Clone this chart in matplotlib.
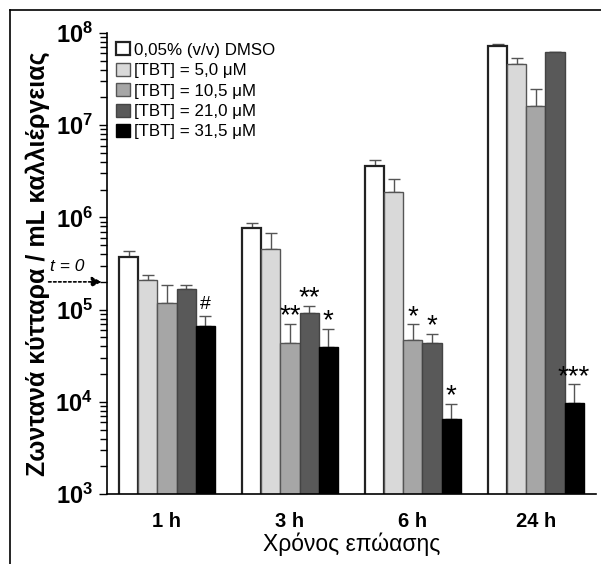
import matplotlib.pyplot as plt
import numpy as np
from matplotlib.lines import Line2D

plt.rcParams['font.family'] = ['Liberation Sans', 'DejaVu Sans']
plt.rcParams['mathtext.fontset'] = 'custom'
plt.rcParams['mathtext.rm'] = 'Liberation Sans'
plt.rcParams['mathtext.bf'] = 'Liberation Sans:bold'

# data
times = ["1 h", "3 h", "6 h", "24 h"]
series = ["0,05% (v/v) DMSO", "[TBT] = 5,0 μM", "[TBT] = 10,5 μM",
          "[TBT] = 21,0 μM", "[TBT] = 31,5 μM"]
dmso = [3.7e5, 7.6e5, 3.6e6, 7.2e7]
tbt_5 = [2.07e5, 4.6e5, 1.87e6, 4.6e7]
tbt_10 = [1.19e5, 4.4e4, 4.7e4, 1.6e7]
tbt_21 = [1.69e5, 9.3e4, 4.4e4, 6.2e7]
tbt_31 = [6.7e4, 3.9e4, 6.5e3, 9.8e3]
err_dmso = [4.3e5, 8.8e5, 4.2e6, 7.6e7]
err_5 = [2.4e5, 6.7e5, 2.6e6, 5.3e7]
err_10 = [1.87e5, 7.0e4, 6.9e4, 2.5e7]
err_21 = [1.87e5, 1.1e5, 5.5e4, 6.2e7]
err_31 = [8.6e4, 6.2e4, 9.5e3, 1.55e4]
marks_10 = ["", "**", "*", ""]
marks_21 = ["", "**", "*", ""]
marks_31 = ["#", "*", "*", "***"]
t0_level = 2.0e5
ytick_exp = [3, 4, 5, 6, 7, 8]

values = [dmso, tbt_5, tbt_10, tbt_21, tbt_31]
tops = [err_dmso, err_5, err_10, err_21, err_31]
marks = [None, None, marks_10, marks_21, marks_31]
colors = ["white", "#d9d9d9", "#a6a6a6", "#595959", "black"]
edges = ["#222222", "#555555", "#555555", "#444444", "black"]

fig = plt.figure(figsize=(6.01, 5.64), dpi=100)
ax = fig.add_axes([0.178, 0.124, 0.814, 0.8175])

x = np.arange(len(times))
w = 0.155
for i, (v, t, c, e) in enumerate(zip(values, tops, colors, edges)):
    pos = x + (i - 2) * w
    lw = 1.6 if i == 0 else 1.0
    ax.bar(pos, v, width=w, color=c, edgecolor=e, linewidth=lw, label=series[i], zorder=2)
    up = np.array(t) - np.array(v)
    ax.errorbar(pos, v, yerr=[np.zeros_like(up), up], fmt="none", ecolor="#555555",
                elinewidth=1.0, capsize=4, capthick=1.0, zorder=1)
    if marks[i] is not None:
        for p, tp, m in zip(pos, t, marks[i]):
            if m:
                fs = 14 if m == "#" else 20
                ax.annotate(m, (p, tp), xytext=(0, 2 if m == "#" else -4), textcoords="offset points",
                            ha="center", va="bottom", fontsize=fs)

ax.set_yscale("log")
ax.set_ylim(1e3, 1e8)
ax.set_xlim(-0.488, 3.49)
ax.set_yticks([10.0 ** k for k in ytick_exp])
ax.set_yticklabels([r"$\mathbf{10^{%d}}$" % k for k in ytick_exp], fontsize=17)
ax.tick_params(axis="y", which="major", length=6, width=1, pad=4)
ax.tick_params(axis="y", which="minor", length=5, width=1)
ax.set_xticks(x)
ax.set_xticklabels(times, fontsize=14.5, fontweight="bold")
ax.tick_params(axis="x", length=0, pad=13)
ax.spines["top"].set_visible(False)
ax.spines["right"].set_visible(False)
ax.spines["left"].set_linewidth(1.2)
ax.spines["bottom"].set_linewidth(1.2)

ax.set_xlabel("Χρόνος επώασης", fontsize=16.5, labelpad=1)
ax.set_ylabel("Ζωντανά κύτταρα / mL καλλιέργειας", fontsize=18, fontweight="bold", labelpad=4)

# t = 0 arrow
tr = ax.get_yaxis_transform()
ax.annotate("", xy=(-0.005, t0_level), xycoords=tr, xytext=(-0.125, t0_level), textcoords=tr,
            arrowprops=dict(arrowstyle="-|>", linestyle=(0, (1.5, 1.5)), color="black",
                            lw=1.2, mutation_scale=15), annotation_clip=False)
ax.text(-0.082, t0_level * 1.22, "t = 0", transform=tr, style="italic", fontsize=12.5,
        ha="center", va="bottom")

ax.legend(loc="upper left", bbox_to_anchor=(0.0, 1.0), frameon=False, fontsize=12.2,
          handlelength=0.8, handleheight=0.8, handletextpad=0.25, labelspacing=0.3,
          borderaxespad=0.15)

# outer frame lines (left and top)
fig.add_artist(Line2D([10 / 601, 10 / 601], [0, 1 - 10 / 564], color="black", lw=1.2))
fig.add_artist(Line2D([10 / 601, 1], [1 - 10 / 564, 1 - 10 / 564], color="black", lw=1.2))

fig.savefig("out.png", dpi=100)
